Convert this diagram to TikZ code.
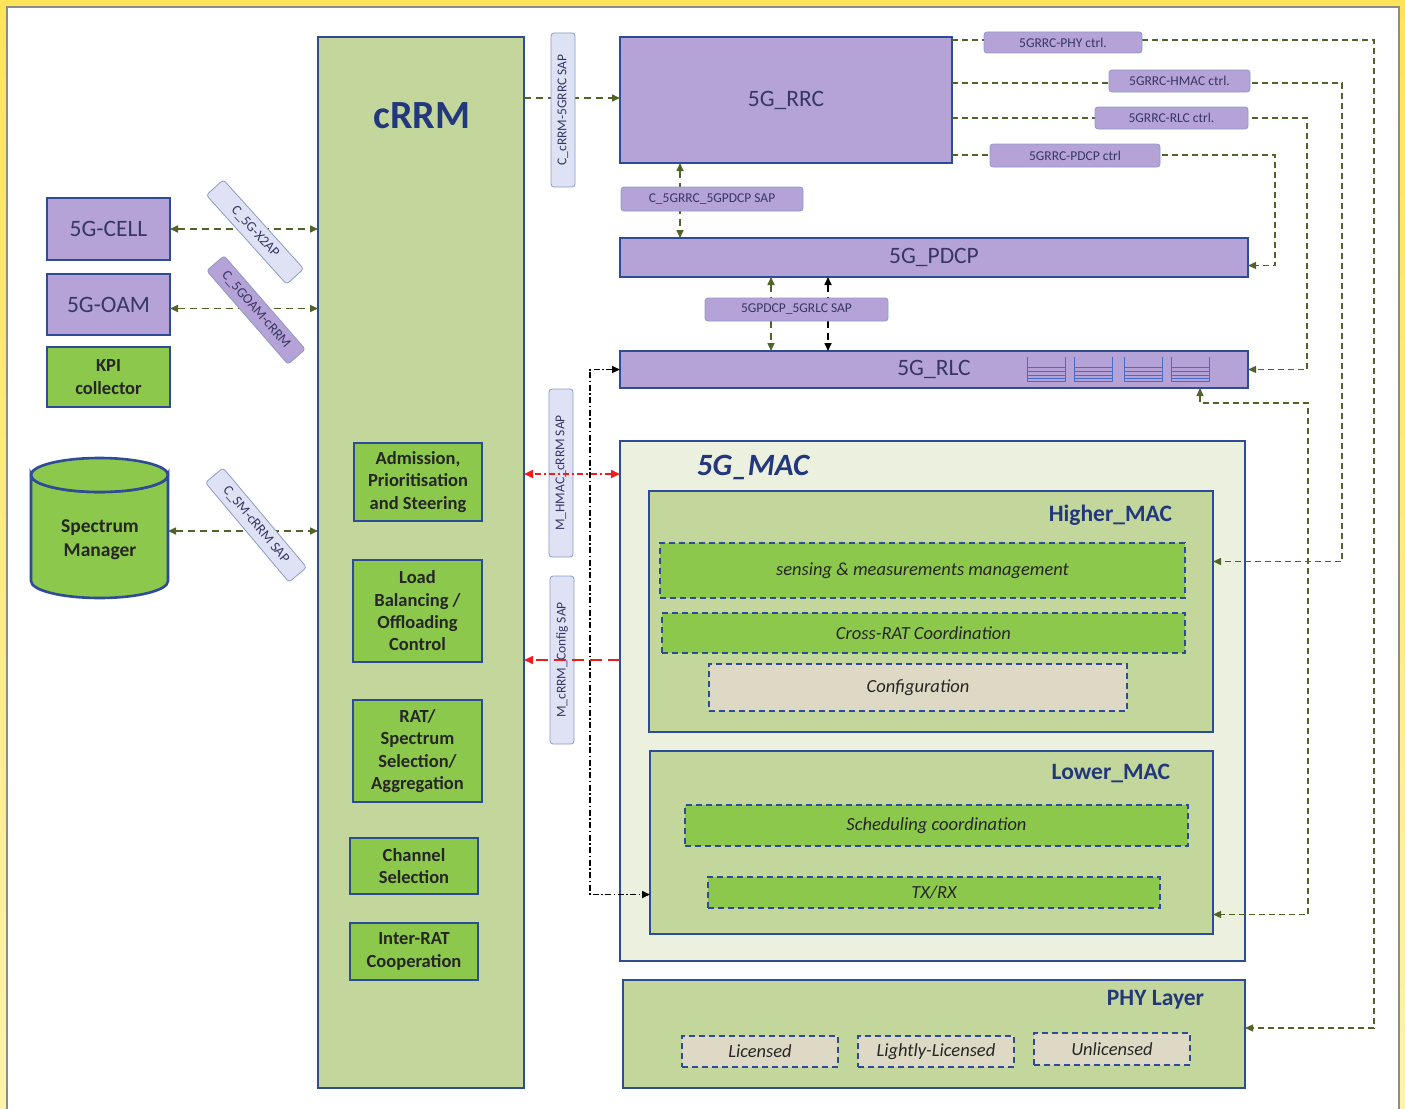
\documentclass[tikz,border=0pt]{standalone}
\usepackage{fontspec}
\setmainfont{Carlito}
\usetikzlibrary{arrows.meta,calc}
\definecolor{lav}{RGB}{181,162,214}
\definecolor{bord}{RGB}{45,75,150}
\definecolor{lgreen}{RGB}{195,214,155}
\definecolor{bgreen}{RGB}{140,200,75}
\definecolor{vlgreen}{RGB}{235,241,222}
\definecolor{beige}{RGB}{221,217,196}
\definecolor{olive}{RGB}{80,100,40}
\definecolor{ctrlc}{RGB}{100,105,85}
\definecolor{sapl}{RGB}{222,226,244}
\definecolor{navy}{RGB}{35,55,125}
\definecolor{txtp}{RGB}{55,55,100}
\definecolor{redc}{RGB}{235,30,30}
\definecolor{bufc}{RGB}{70,110,200}
\newcommand\bx[6][]{\node[#1,minimum width={#5-#3},minimum height={#6-#4}] (#2) at ({(#3+#5)/2},{(#4+#6)/2})}
\begin{document}
\begin{tikzpicture}[x=1pt,y=-1pt,inner sep=0pt,outer sep=0pt,
  >={Triangle[length=8pt,width=7pt]},
  bigbox/.style={draw=bord,line width=2.6pt,fill=lgreen},
  macbox/.style={draw=bord,line width=2.6pt,fill=vlgreen},
  lavbox/.style={draw=bord,line width=2.6pt,fill=lav,text=txtp,font=\fontsize{23.5}{27}\selectfont},
  gbox/.style={draw=bord,line width=2pt,fill=bgreen,align=center,text=black!85,font=\bfseries\fontsize{18.5}{22.3}\selectfont},
  dbox/.style={draw=bord,dash pattern=on 6pt off 4pt,line width=1.2pt,fill=bgreen,text=black!85,font=\itshape\fontsize{18.5}{21}\selectfont},
  sap/.style={draw=bord!55,line width=0.8pt,rounded corners=3pt,fill=lav,text=txtp,font=\fontsize{13.5}{15}\selectfont},
  oarr/.style={draw=olive,line width=1.6pt,dash pattern=on 7pt off 5pt},
  barr/.style={draw=black,line width=1.6pt,dash pattern=on 7pt off 5pt},
  ctrl/.style={draw=ctrlc,line width=1.4pt,dash pattern=on 6pt off 4pt,color=olive},
  bdd/.style={draw=black,line width=1.6pt,dash pattern=on 6pt off 2.5pt on 1.5pt off 2.5pt},
  red1/.style={draw=redc,line width=1.6pt,dash pattern=on 6pt off 3pt on 2pt off 3pt},
  red2/.style={draw=redc,line width=1.6pt,dash pattern=on 12pt off 6pt},
  title/.style={text=navy,font=\bfseries\fontsize{23.5}{27}\selectfont}]
\useasboundingbox (0,0) rectangle (1405,1108);
\shade[top color={rgb,255:red,255;green,228;blue,90},bottom color={rgb,255:red,255;green,242;blue,170}] (0,0) rectangle (1405,1108);
\draw[fill=white,draw=black!45,line width=1.3pt] (7,7) rectangle (1399,1125);

% cRRM
\bx[bigbox]{crrm}{318}{37}{524}{1088}{};
\node[text=navy,font=\bfseries\fontsize{40}{44}\selectfont] (crrmt) at (422,116) {cRRM};
\bx[gbox]{adm}{354}{443}{482}{521}{Admission,\\Prioritisation\\and Steering};
\bx[gbox]{lb}{353}{560}{482}{662}{Load\\Balancing /\\Offloading\\Control};
\bx[gbox]{rat}{353}{700}{482}{802}{RAT/\\Spectrum\\Selection/\\Aggregation};
\bx[gbox]{ch}{350}{838}{478}{894}{Channel\\Selection};
\bx[gbox]{irc}{350}{923}{478}{980}{Inter-RAT\\Cooperation};

% left
\bx[lavbox]{cell}{47}{198}{170}{260}{5G-CELL};
\bx[lavbox]{oam}{47}{274}{170}{335}{5G-OAM};
\bx[gbox,line width=2.6pt]{kpi}{47}{347}{170}{407}{KPI\\collector};
\filldraw[fill=bgreen,draw=bord,line width=2.6pt] (31,475) -- (31,581) arc[start angle=180,end angle=0,x radius=68.5,y radius=17] -- (168,475) arc[start angle=0,end angle=180,x radius=68.5,y radius=17] -- cycle;
\filldraw[fill=bgreen,draw=bord,line width=2.6pt] (99.5,475) ellipse[x radius=68.5,y radius=17];
\node[minimum width=137,minimum height=112] (sm) at (99.5,531) {};
\node[align=center,text=black!85,font=\bfseries\fontsize{19.5}{24}\selectfont] (smt) at (100,540) {Spectrum\\Manager};

% right stack
\bx[lavbox]{rrc}{620}{37}{952}{163}{5G\_RRC};
\bx[lavbox]{pdcp}{620}{238}{1248}{277}{5G\_PDCP};
\bx[lavbox]{rlc}{620}{351}{1248}{388}{5G\_RLC};
\foreach \x in {1027,1074,1124,1171}{
  \draw[bufc,line width=1pt] (\x,357) -- (\x,381) -- (\x+38,381) -- (\x+38,357);
  \foreach \yy in {367,371,375,378} \draw[bufc,line width=0.9pt] (\x,\yy) -- (\x+38,\yy);
}

% MAC
\bx[macbox]{mac}{620}{441}{1245}{961}{};
\node[text=navy,font=\bfseries\itshape\fontsize{31}{34}\selectfont] (mact) at (753,467) {5G\_MAC};
\bx[bigbox]{hmac}{649}{491}{1213}{732}{};
\node[title,anchor=east] (hmact) at (1172,515) {Higher\_MAC};
\bx[dbox]{sens}{660}{543}{1185}{598}{sensing \& measurements management};
\bx[dbox]{xrat}{662}{613}{1185}{653}{Cross-RAT Coordination};
\bx[dbox,fill=beige]{conf}{709}{664}{1127}{711}{Configuration};
\bx[bigbox]{lmac}{650}{751}{1213}{934}{};
\node[title,anchor=east] (lmact) at (1170,773) {Lower\_MAC};
\bx[dbox]{sched}{685}{805}{1188}{846}{Scheduling coordination};
\bx[dbox]{txrx}{708}{877}{1160}{908}{TX/RX};
\bx[bigbox]{phy}{623}{980}{1245}{1088}{};
\node[title,anchor=east] (phyt) at (1204,1000) {PHY Layer};
\bx[dbox,fill=beige]{lic}{682}{1036}{838}{1067}{Licensed};
\bx[dbox,fill=beige]{llic}{858}{1036}{1014}{1067}{Lightly-Licensed};
\bx[dbox,fill=beige]{unlic}{1034}{1033}{1190}{1065}{Unlicensed};

% connectors
\draw[oarr,<->] (cell.east) -- (cell.east -| crrm.west);
\draw[oarr,<->] ([yshift=-4]oam.east) -- ([yshift=-4]oam.east -| crrm.west);
\draw[oarr,<->] (sm.east) -- (sm.east -| crrm.west);
\draw[oarr,->] ([yshift=2]crrm.east |- rrc.west) -- ([yshift=2]rrc.west);
\draw[oarr,<->] ([xshift=60]rrc.south west) -- ([xshift=60]pdcp.north west);
\draw[oarr,<->] ([xshift=151]pdcp.south west) -- ([xshift=151]rlc.north west);
\draw[barr,<->] ([xshift=208]pdcp.south west) -- ([xshift=208]rlc.north west);

\draw[ctrl,->] ([yshift=-3]rrc.north east) -- ++(422,0) |- ([yshift=6]phy.east);
\draw[ctrl,->] ([yshift=-46]rrc.north east) -- ++(390,0) |- ([yshift=50]hmac.east);
\draw[ctrl,->] ([yshift=-81]rrc.north east) -- ++(355,0) |- (rlc.east);
\draw[ctrl,->] ([yshift=-118]rrc.north east) -- ++(323,0) |- ([yshift=-8]pdcp.east);
\coordinate (k) at (1308,403);
\draw[ctrl,<->] ([xshift=-48]rlc.south east) |- (k) |- ([yshift=-72]lmac.east);

\coordinate (dd) at (590,600);
\draw[bdd,<->] (rlc.west) -| (dd) |- ([yshift=-52]lmac.west);

% labels
\bx[sap]{cphy}{984}{32}{1142}{53}{5GRRC-PHY ctrl.};
\bx[sap]{chmac}{1109}{70}{1250}{92}{5GRRC-HMAC ctrl.};
\bx[sap]{crlc}{1095}{107}{1248}{129}{5GRRC-RLC ctrl.};
\bx[sap]{cpdcp}{990}{144}{1160}{167}{5GRRC-PDCP ctrl};
\bx[sap]{sap1}{621}{187}{803}{211}{C\_5GRRC\_5GPDCP SAP};
\bx[sap]{sap2}{705}{298}{888}{321}{5GPDCP\_5GRLC SAP};
\node[sap,fill=sapl,rotate=90,minimum width=154,minimum height=24] (sapc) at (563,110) {C\_cRRM-5GRRC SAP};
\node[sap,fill=sapl,rotate=90,minimum width=168,minimum height=24] (saph) at (561,473) {M\_HMAC\_cRRM SAP};
\node[sap,fill=sapl,rotate=90,minimum width=168,minimum height=24] (sapm) at (562,660) {M\_cRRM\_Config SAP};
\node[sap,fill=sapl,rotate=-48,minimum width=120,minimum height=23,font=\fontsize{14}{16}\selectfont] (x2) at (255,232) {C\_5G-X2AP};
\node[sap,rotate=-49,minimum width=124,minimum height=23,font=\fontsize{14}{16}\selectfont] (oamr) at (256,310) {C\_5GOAM-cRRM};
\node[sap,fill=sapl,rotate=-50,minimum width=130,minimum height=23,font=\fontsize{14}{16}\selectfont] (smr) at (256,525) {C\_SM-cRRM SAP};

\coordinate (r1) at ([yshift=227]mac.west);
\draw[red1,<->,>={Triangle[length=9pt,width=8pt]}] (r1) -- (r1 -| crrm.east);
\coordinate (r2) at ([yshift=41]mac.west);
\draw[red2,->,>={Triangle[length=9pt,width=8pt]}] (r2) -- (r2 -| crrm.east);
\end{tikzpicture}
\end{document}
